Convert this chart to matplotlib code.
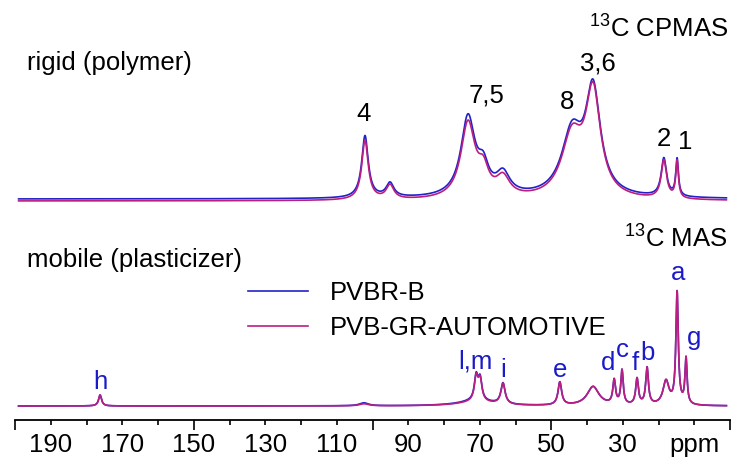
import numpy as np
import matplotlib
matplotlib.use('Agg')
import matplotlib.pyplot as plt

plt.rcParams['font.family'] = ['Liberation Sans', 'DejaVu Sans']
plt.rcParams['mathtext.fontset'] = 'custom'
plt.rcParams['mathtext.rm'] = 'Liberation Sans'

# peak tables (ppm, height, half width)
rigid_ppm = [102.1, 95.1, 73.3, 69.0, 63.5, 44.2, 38.3, 18.5, 14.8]
rigid_blue = [62, 14, 79, 24, 21, 62, 103, 38, 37]
rigid_magenta = [59, 14, 75, 23, 19, 60, 103, 38, 37]
rigid_hw = [1.1, 1.3, 2.4, 1.8, 2.3, 3.5, 2.5, 0.9, 0.45]

mobile_ppm = [176.2, 102.4, 71.0, 71.0, 69.9, 63.5, 47.6, 38.3, 32.4, 30.2, 26.0, 23.2, 17.9, 14.8, 12.3]
mobile_blue = [11, 3, 5, 24, 21, 21, 23, 19, 24, 34, 26, 37, 24, 112, 46]
mobile_magenta = [11, 2, 4, 24, 21, 21, 23, 19, 24, 34, 26, 37, 24, 112, 46]
mobile_hw = [0.5, 1.5, 6.0, 0.6, 0.6, 0.7, 0.6, 2.0, 0.45, 0.4, 0.45, 0.45, 1.0, 0.4, 0.35]

rigid_labels = ['4', '7,5', '8', '3,6', '2', '1']
rigid_label_pos = [(102.5, 85), (68, 103), (45.5, 97), (37, 135), (18.5, 60), (12.6, 57)]
mobile_labels = ['h', 'l,m', 'i', 'e', 'd', 'c', 'f', 'b', 'a', 'g']
mobile_label_pos = [(176.2, 24), (71.3, 44), (63.5, 36), (47.6, 36), (34.0, 43), (30.0, 56),
                    (26.4, 43), (23.0, 53), (14.6, 133), (10.0, 68)]

BLUE = '#2222c8'
MAGENTA = '#bc1e80'
RIGID_BASE = 221
MOBILE_BASE = 14
FS = 18.5


def spectrum(x, ppm, heights, hw):
    y = np.zeros_like(x)
    for p, h, w in zip(ppm, heights, hw):
        y += h / (1 + ((x - p) / w) ** 2)
    return y


x = np.linspace(199, 1, 4000)

fig = plt.figure(figsize=(7.31, 4.57), dpi=100)
ax = fig.add_axes([15 / 731, 37 / 457, 715 / 731, 420 / 457])

ax.plot(x, RIGID_BASE + spectrum(x, rigid_ppm, rigid_blue, rigid_hw), color=BLUE, lw=1.2)
ax.plot(x, RIGID_BASE - 2 + spectrum(x, rigid_ppm, rigid_magenta, rigid_hw), color=MAGENTA, lw=1.2)
ax.plot(x, MOBILE_BASE + spectrum(x, mobile_ppm, mobile_blue, mobile_hw), color=BLUE, lw=1.2,
        label='PVBR-B')
ax.plot(x, MOBILE_BASE + spectrum(x, mobile_ppm, mobile_magenta, mobile_hw), color=MAGENTA, lw=1.2,
        label='PVB-GR-AUTOMOTIVE')

for lab, (px, py) in zip(rigid_labels, rigid_label_pos):
    ax.text(px, RIGID_BASE + py, lab, ha='center', va='center', fontsize=FS, color='black')
for lab, (px, py) in zip(mobile_labels, mobile_label_pos):
    ax.text(px, MOBILE_BASE + py, lab, ha='center', va='center', fontsize=FS, color='#1a1ac8')

ax.text(0.017, 0.85, 'rigid (polymer)', transform=ax.transAxes, fontsize=FS, va='center')
ax.text(0.017, 0.381, 'mobile (plasticizer)', transform=ax.transAxes, fontsize=FS, va='center')
ax.text(0.997, 0.933, r'$^{13}$C CPMAS', transform=ax.transAxes, fontsize=FS, va='center', ha='right')
ax.text(0.997, 0.433, r'$^{13}$C MAS', transform=ax.transAxes, fontsize=FS, va='center', ha='right')

leg = ax.legend(loc='upper left', bbox_to_anchor=(233 / 715, 0.331), frameon=False, fontsize=FS,
                handlelength=2.33, handletextpad=0.86, labelspacing=0.41, borderpad=0,
                borderaxespad=0)

ax.set_xlim(200, 0)
ax.set_ylim(0, 420)
for s in ['left', 'right', 'top']:
    ax.spines[s].set_visible(False)
ax.spines['bottom'].set_linewidth(1.3)
ax.set_yticks([])

ax.set_xticks([200, 150, 100, 50, 0], ['', '150', '', '50', ''])
minor = [190, 180, 170, 160, 140, 130, 120, 110, 90, 80, 70, 60, 40, 30, 20, 10]
minor_lab = ['190', '', '170', '', '', '130', '', '110', '90', '', '70', '', '', '30', '', 'ppm']
ax.set_xticks(minor, minor_lab, minor=True)
ax.tick_params(axis='x', which='major', length=7.2, width=1.2, pad=2.2, labelsize=FS)
ax.tick_params(axis='x', which='minor', length=3.6, width=1.2, pad=5.8, labelsize=FS)

fig.savefig('out.png', dpi=100)
